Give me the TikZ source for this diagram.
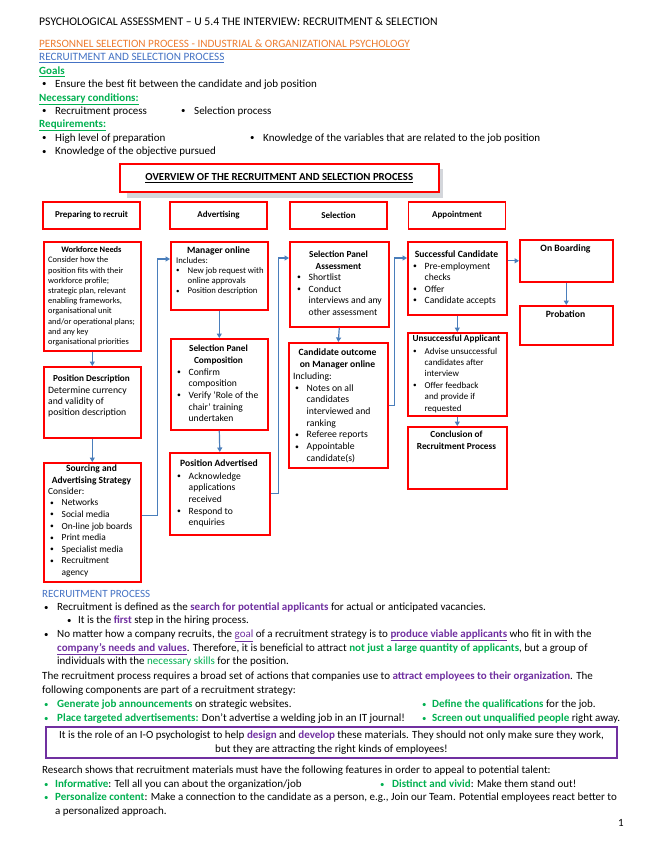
\documentclass[tikz,border=0pt]{standalone}
\usepackage{fontspec}
\setmainfont{Carlito}
\usetikzlibrary{arrows.meta}
\definecolor{rd}{HTML}{FF0000}
\definecolor{org}{HTML}{ED7D31}
\definecolor{hbl}{HTML}{4472C4}
\definecolor{grn}{HTML}{00B050}
\definecolor{pur}{HTML}{7030A0}
\definecolor{arr}{HTML}{4A7EBB}
\definecolor{shd}{HTML}{D3D6DB}
\newcommand\myul[1]{\underline{#1}}
\newcommand\pb[1]{\textcolor{pur}{\textbf{#1}}}
\newcommand\gb[1]{\textcolor{grn}{\textbf{#1}}}
\newcommand\fs[2]{\fontsize{#1}{#2}\selectfont}
\newcommand\sbul{\raisebox{0.5pt}{\scalebox{0.8}{\textbullet}}}
\newcommand\bu{\makebox[11.5pt][l]{\sbul}}
\newcommand\ct{\hspace*{11.5pt}}
\newcommand\tbu{\makebox[13pt][l]{\sbul}}
\tikzset{
  redbox/.style={draw=rd, line width=1.6pt, inner sep=0pt, anchor=north west, fill=white},
  hdrbox/.style={draw=rd, line width=1.6pt, inner sep=0pt, minimum width=97pt, minimum height=27pt, font=\fs{9}{11}\bfseries},
  conn/.style={draw=arr, line width=1.2pt, -{Triangle[length=4.5pt,width=5pt]}},
  tl/.style={inner sep=0pt, anchor=base west, font=\fs{11}{13}},
  bl/.style={inner sep=0pt, anchor=base west, font=\fs{11}{13}},
  btitle/.style={inner sep=0pt, anchor=north, align=center},
  bbody/.style={inner sep=0pt, anchor=north west, align=left},
}
\begin{document}
\begin{tikzpicture}[x=1pt,y=-1pt]
\useasboundingbox (0,0) rectangle (655,848);
\fill[white] (0,0) rectangle (655,848);

% ---------- top text ----------
\node[tl, font=\fs{11.7}{13}] (t1) at (39,25.5) {PSYCHOLOGICAL ASSESSMENT – U 5.4 THE INTERVIEW: RECRUITMENT \& SELECTION};
\node[tl, font=\fs{11.2}{13}] (t2) at (39,47.5) {\textcolor{org}{\myul{PERSONNEL SELECTION PROCESS - INDUSTRIAL \& ORGANIZATIONAL PSYCHOLOGY}}};
\node[tl, font=\fs{11.2}{13}] (t3) at (39,60.5) {\textcolor{hbl}{\myul{RECRUITMENT AND SELECTION PROCESS}}};
\node[tl] (t4) at (39,74.5) {\textcolor{grn}{\myul{\textbf{Goals}}}};
\node[tl] (t5) at (42,87.5) {\tbu Ensure the best fit between the candidate and job position};
\node[tl] (t6) at (39,101.5) {\textcolor{grn}{\myul{\textbf{Necessary conditions:}}}};
\node[tl] (t7a) at (42,114.5) {\tbu Recruitment process};
\node[tl] (t7b) at (181,114.5) {\tbu Selection process};
\node[tl] (t8) at (39,127.5) {\textcolor{grn}{\myul{\textbf{Requirements:}}}};
\node[tl] (t9a) at (42,141.5) {\tbu High level of preparation};
\node[tl] (t9b) at (250,141.5) {\tbu Knowledge of the variables that are related to the job position};
\node[tl] (t10) at (42,154.5) {\tbu Knowledge of the objective pursued};

% ---------- overview ----------
\fill[shd] (127,169) rectangle (443,198);
\node[redbox, minimum width=319pt, minimum height=28pt] (ov) at (119,163) {};
\node[inner sep=0pt, font=\fs{10.8}{12}\bfseries] (ovt) at (ov.center) {\myul{OVERVIEW OF THE RECRUITMENT AND SELECTION PROCESS}};

\node[hdrbox] (h1) at (91.5,215.5) {Preparing to recruit};
\node[hdrbox] (h2) at (218.5,215.5) {Advertising};
\node[hdrbox] (h3) at (338.5,215.5) {Selection};
\node[hdrbox] (h4) at (457,215.5) {Appointment};

% ---------- column 1 ----------
\node[redbox, minimum width=97pt, minimum height=109pt] (wf) at (43,241) {};
\node[btitle, font=\fs{8.4}{12}\bfseries] (wft) at (91.5,246.8) {Workforce Needs};
\node[bbody, font=\fs{8.4}{10.2}] (wfb) at (48,256.9) {Consider how the\\position fits with their\\workforce profile;\\strategic plan, relevant\\enabling frameworks,\\organisational unit\\and/or operational plans;\\and any key\\organisational priorities};

\node[redbox, minimum width=97pt, minimum height=71pt] (pd) at (43,366) {};
\node[btitle, font=\fs{9.2}{12}\bfseries] (pdt) at (91.5,374.6) {Position Description};
\node[bbody, font=\fs{9.7}{11.3}] (pdb) at (48,386.4) {Determine currency\\and validity of\\position description};

\node[redbox, minimum width=97pt, minimum height=119pt] (src) at (43,462) {};
\node[btitle, font=\fs{9.5}{12}\bfseries] (srct) at (91.5,464.5) {Sourcing and\\Advertising Strategy};
\node[bbody, font=\fs{9.4}{11.6}] (srcb) at (48,487.5) {Consider:\\\hspace*{2pt}\bu Networks\\\hspace*{2pt}\bu Social media\\\hspace*{2pt}\bu On-line job boards\\\hspace*{2pt}\bu Print media\\\hspace*{2pt}\bu Specialist media\\\hspace*{2pt}\bu Recruitment\\\hspace*{2pt}\ct agency};

% ---------- column 2 ----------
\node[redbox, minimum width=97pt, minimum height=68pt] (mgr) at (170,241) {};
\node[btitle, font=\fs{9.6}{12}\bfseries] (mgrt) at (218.5,246.4) {Manager online};
\node[bbody, font=\fs{8.7}{10.3}] (mgrb) at (176,256.8) {Includes:\\\bu New job request with\\\ct online approvals\\\bu Position description};

\node[redbox, minimum width=97pt, minimum height=91pt] (spc) at (170,338) {};
\node[btitle, font=\fs{9.3}{12}\bfseries] (spct) at (218.5,344.6) {Selection Panel\\Composition};
\node[bbody, font=\fs{9.6}{11.6}] (spcb) at (177,368.4) {\bu Confirm\\\ct composition\\\bu Verify ‘Role of the\\\ct chair’ training\\\ct undertaken};

\node[redbox, minimum width=100pt, minimum height=82pt] (pa) at (169,452) {};
\node[btitle, font=\fs{9.6}{12}\bfseries] (pat) at (219,459.4) {Position Advertised};
\node[bbody, font=\fs{9.6}{11.6}] (pab) at (177,472.4) {\bu Acknowledge\\\ct applications\\\ct received\\\bu Respond to\\\ct enquiries};

% ---------- column 3 ----------
\node[redbox, minimum width=99pt, minimum height=85pt] (spa) at (289,241) {};
\node[btitle, font=\fs{9.3}{12}\bfseries] (spat) at (338.5,250.6) {Selection Panel\\Assessment};
\node[bbody, font=\fs{9.6}{11.8}] (spab) at (297,273.4) {\bu Shortlist\\\bu Conduct\\\ct interviews and any\\\ct other assessment};

\node[redbox, minimum width=99pt, minimum height=125pt] (co) at (288,342) {};
\node[btitle, font=\fs{9.6}{12}\bfseries] (cot) at (337.5,348.4) {Candidate outcome\\on Manager online};
\node[bbody, font=\fs{9.7}{11.7}] (cob) at (293,372.4) {Including:\\\hspace*{2pt}\bu Notes on all\\\hspace*{2pt}\ct candidates\\\hspace*{2pt}\ct interviewed and\\\hspace*{2pt}\ct ranking\\\hspace*{2pt}\bu Referee reports\\\hspace*{2pt}\bu Appointable\\\hspace*{2pt}\ct candidate(s)};

% ---------- column 4 ----------
\node[redbox, minimum width=99pt, minimum height=73pt] (sc) at (407,241) {};
\node[btitle, font=\fs{9.6}{12}\bfseries] (sct) at (456.5,250.4) {Successful Candidate};
\node[bbody, font=\fs{9.6}{11.4}] (scb) at (413,262.4) {\bu Pre-employment\\\ct checks\\\bu Offer\\\bu Candidate accepts};

\node[redbox, minimum width=99pt, minimum height=83pt] (ua) at (407,332) {};
\node[btitle, font=\fs{9.2}{12}\bfseries] (uat) at (456.5,334.6) {Unsuccessful Applicant};
\node[bbody, font=\fs{9}{11.4}] (uab) at (413,347.7) {\bu Advise unsuccessful\\\ct candidates after\\\ct interview\\\bu Offer feedback\\\ct and provide if\\\ct requested};

\node[redbox, minimum width=99pt, minimum height=62pt] (cl) at (407,426) {};
\node[btitle, font=\fs{9.3}{12}\bfseries] (clt) at (456.5,430.6) {Conclusion of\\Recruitment Process};

\node[redbox, minimum width=93pt, minimum height=42pt] (onb) at (519,239) {};
\node[btitle, font=\fs{9.7}{12}\bfseries] (onbt) at (565.5,244.4) {On Boarding};
\node[redbox, minimum width=93pt, minimum height=39pt] (prob) at (519,305) {};
\node[btitle, font=\fs{9.6}{12}\bfseries] (probt) at (565.5,310.4) {Probation};

% ---------- connectors ----------
\draw[conn] (wf.south) -- (pd.north);
\draw[conn] (pd.south) -- (src.north);
\draw[conn] ([yshift=6.5pt]src.east) -- ++(16,0) |- ([yshift=-18pt]mgr.north west);
\draw[conn] (mgr.south) -- (spc.north);
\draw[conn] (spc.south) -- (pa.north);
\draw[conn] (pa.east) -- ++(8,0) |- ([yshift=-17pt]spa.north west);
\draw[conn] (spa.south) -- (co.north);
\draw[conn] (co.east) -- ++(6,0) |- ([yshift=-17pt]sc.north west);
\draw[conn] (sc.east |- onb.west) -- (onb.west);
\draw[conn] (onb.south) -- (prob.north);
\draw[conn] (sc.south) -- (ua.north);
\draw[conn] (ua.south) -- (cl.north);

% ---------- bottom text ----------
\node[bl] (b1) at (42,597.5) {\textcolor{hbl}{RECRUITMENT PROCESS}};
\node[bl] (b2) at (44,610.5) {\tbu Recruitment is defined as the \pb{search for potential applicants} for actual or anticipated vacancies.};
\node[bl] (b3) at (67,623.5) {\makebox[11pt][l]{\sbul}It is the \pb{first} step in the hiring process.};
\node[bl] (b4) at (44,637.5) {\tbu No matter how a company recruits, the \textcolor{pur}{\myul{goal}} of a recruitment strategy is to \pb{\myul{produce viable applicants}} who fit in with the};
\node[bl] (b5) at (57,651.5) {\pb{\myul{company’s needs and values}}. Therefore, it is beneficial to attract \gb{not just a large quantity of applicants}, but a group of};
\node[bl] (b6) at (57,664.5) {individuals with the \textcolor{grn}{necessary skills} for the position.};
\node[bl] (b7) at (42,679.5) {The recruitment process requires a broad set of actions that companies use to \pb{attract employees to their organization}. The};
\node[bl] (b8) at (42,693.5) {following components are part of a recruitment strategy:};
\node[bl] (b9a) at (44,707.5) {\textcolor{grn}{\tbu}\gb{Generate job announcements} on strategic websites.};
\node[bl] (b9b) at (422,707.5) {\textcolor{grn}{\makebox[10pt][l]{\sbul}}\gb{Define the qualifications} for the job.};
\node[bl] (b10a) at (44,721.5) {\textcolor{grn}{\tbu}\gb{Place targeted advertisements:} Don’t advertise a welding job in an IT journal!};
\node[bl] (b10b) at (422,721.5) {\textcolor{grn}{\makebox[10pt][l]{\sbul}}\gb{Screen out unqualified people} right away.};

\node[draw=pur, line width=1.6pt, inner sep=0pt, minimum width=571pt, minimum height=31pt, align=center, font=\fs{11}{14}] (pbox) at (331.5,742.5) {It is the role of an I-O psychologist to help \pb{design} and \pb{develop} these materials. They should not only make sure they work,\\but they are attracting the right kinds of employees!};

\node[bl] (b11) at (42,773.5) {Research shows that recruitment materials must have the following features in order to appeal to potential talent:};
\node[bl] (b12a) at (44,787.5) {\textcolor{grn}{\makebox[11pt][l]{\sbul}}\gb{Informative}: Tell all you can about the organization/job};
\node[bl] (b12b) at (380,787.5) {\textcolor{grn}{\makebox[12pt][l]{\sbul}}\gb{Distinct and vivid}: Make them stand out!};
\node[bl] (b13) at (44,800.5) {\textcolor{grn}{\makebox[11pt][l]{\sbul}}\gb{Personalize content}: Make a connection to the candidate as a person, e.g., Join our Team. Potential employees react better to};
\node[bl] (b14) at (55,814.5) {a personalized approach.};
\node[bl] (pg) at (618,826) {1};
\end{tikzpicture}
\end{document}
